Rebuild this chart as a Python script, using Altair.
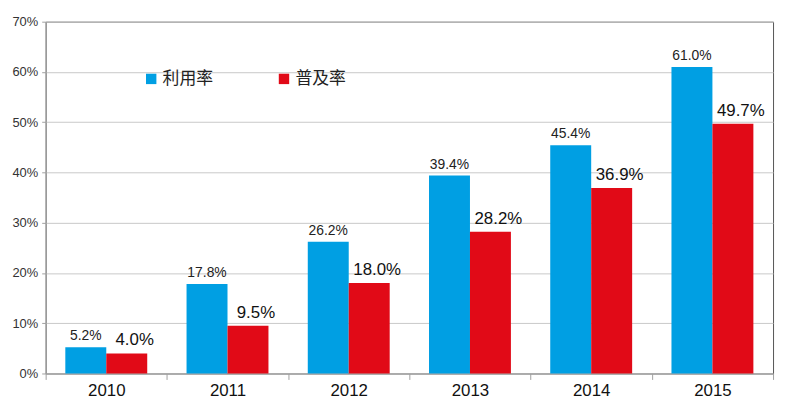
import altair as alt
import pandas as pd

years = ["2010", "2011", "2012", "2013", "2014", "2015"]
usage = [5.2, 17.8, 26.2, 39.4, 45.4, 61.0]      # 利用率
penetration = [4.0, 9.5, 18.0, 28.2, 36.9, 49.7]  # 普及率
series_names = ["利用率", "普及率"]
colors = ["#009FE3", "#E10A17"]

rows = []
for y, u, p in zip(years, usage, penetration):
    rows.append({"year": y, "series": series_names[0], "value": u / 100, "label": f"{u:.1f}%"})
    rows.append({"year": y, "series": series_names[1], "value": p / 100, "label": f"{p:.1f}%"})
df = pd.DataFrame(rows)

x = alt.X("year:N", title=None,
          scale=alt.Scale(paddingInner=0, paddingOuter=0),
          axis=alt.Axis(labelAngle=0, labelFontSize=17, labelColor="#111",
                        labelFont="Liberation Sans", tickBand="extent",
                        domainColor="#a0a0a0", tickColor="#a0a0a0", tickSize=6,
                        labelPadding=3))
xo = alt.XOffset("series:N", scale=alt.Scale(paddingOuter=0.48, paddingInner=0),
                 sort=series_names)
y = alt.Y("value:Q", title=None,
          scale=alt.Scale(domain=[0, 0.7]),
          axis=alt.Axis(format=".0%", values=[0, 0.1, 0.2, 0.3, 0.4, 0.5, 0.6, 0.7],
                        labelFontSize=13, labelColor="#333", labelFont="Liberation Sans",
                        gridColor="#c8c8c8", domainColor="#a0a0a0", tickColor="#a0a0a0",
                        tickSize=4, labelPadding=4))

bars = alt.Chart(df).mark_bar().encode(
    x=x, xOffset=xo, y=y,
    color=alt.Color("series:N", sort=series_names,
                    scale=alt.Scale(domain=series_names, range=colors),
                    legend=alt.Legend(title=None, orient="none", direction="horizontal",
                                      legendX=98, legendY=49, symbolType="square",
                                      symbolSize=110, labelFontSize=17,
                                      labelFont="Noto Sans CJK SC", labelColor="#222",
                                      columnPadding=63, symbolOffset=0, labelOffset=3,
                                      symbolStrokeWidth=0)),
)

text_blue = alt.Chart(df).transform_filter(alt.datum.series == series_names[0]).mark_text(
    baseline="bottom", dy=-4, fontSize=14, font="Liberation Sans", color="#222"
).encode(x=x, xOffset=xo, y=y, text="label:N")

text_red = alt.Chart(df).transform_filter(alt.datum.series == series_names[1]).mark_text(
    baseline="bottom", dy=-4, dx=8, fontSize=17, font="Liberation Sans", color="#111"
).encode(x=x, xOffset=xo, y=y, text="label:N")

chart = alt.layer(bars, text_blue, text_red).resolve_scale(xOffset="shared").properties(
    width=734, height=355,
    padding={"top": 6, "left": 3, "right": 3, "bottom": 5},
    background="white",
).configure_view(stroke="#555", strokeWidth=1)

chart.save("out.html", embed_options={"renderer": "svg", "actions": False})
